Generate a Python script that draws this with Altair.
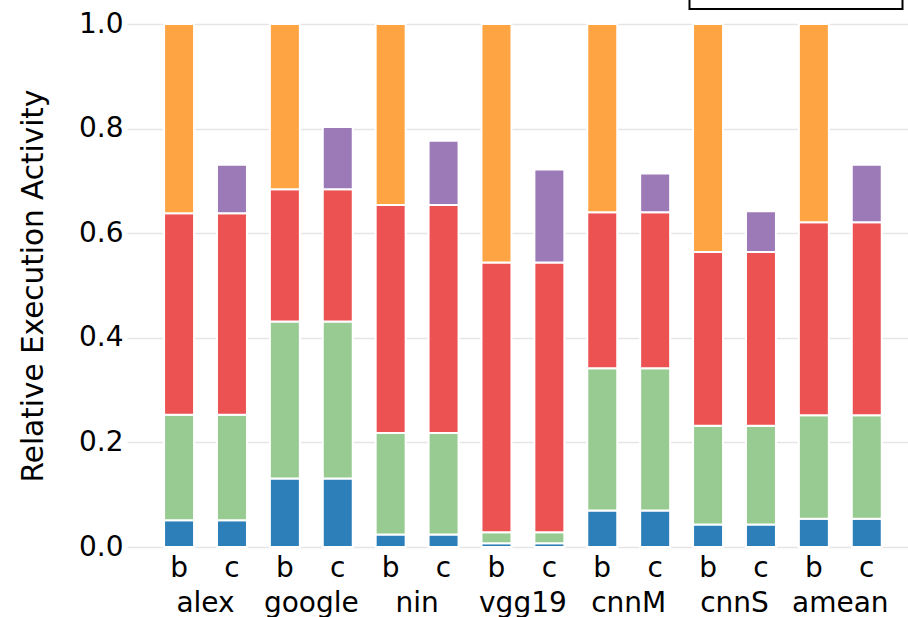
import altair as alt
import pandas as pd

# Benchmarks and the two configurations compared for each of them
groups = ["alex", "google", "nin", "vgg19", "cnnM", "cnnS", "amean"]
variants = ["b", "c"]

# Activity categories, bottom to top, and their colours
parts = ["other layers", "conv1", "non-zero", "zero", "stall"]
part_colors = ["#2c7fb8", "#98cb91", "#ed5253", "#fea442", "#9c7ab8"]

# Fractions of baseline execution activity per benchmark
other_layers = [0.051, 0.131, 0.024, 0.007, 0.070, 0.043, 0.054]
conv1 = [0.202, 0.300, 0.194, 0.021, 0.272, 0.189, 0.198]
non_zero = [0.385, 0.253, 0.436, 0.516, 0.298, 0.332, 0.369]
zero = [0.362, 0.316, 0.346, 0.456, 0.360, 0.436, 0.379]   # only in "b"
stall = [0.093, 0.119, 0.123, 0.178, 0.074, 0.078, 0.110]  # only in "c"

y_ticks = [0.0, 0.2, 0.4, 0.6, 0.8, 1.0]

FONT = "DejaVu Sans"
FS = 28
TITLE_FS = 29.5
LEGEND_FS = 27

rows = []
for i, g in enumerate(groups):
    shared = [("other layers", other_layers[i]), ("conv1", conv1[i]), ("non-zero", non_zero[i])]
    for v in variants:
        top = ("zero", zero[i]) if v == "b" else ("stall", stall[i])
        for part, val in shared + [top]:
            rows.append({"group": g, "variant": v, "part": part,
                         "value": val, "rank": parts.index(part)})
df = pd.DataFrame(rows)

labels_df = pd.DataFrame([{"group": g, "variant": v} for g in groups for v in variants])

x_enc = alt.X(
    "group:N", sort=groups,
    scale=alt.Scale(paddingInner=0, paddingOuter=0.191, align=0.634),
    axis=alt.Axis(title=None, labelPadding=42, ticks=False, domain=False, grid=False,
                  labelFont=FONT, labelFontSize=FS, labelColor="black", labelAngle=0),
)
xoff_enc = alt.XOffset(
    "variant:N", sort=variants,
    scale=alt.Scale(paddingInner=0.433, paddingOuter=0.2165),
)

bars = alt.Chart(df).mark_bar(stroke="white", strokeWidth=2).encode(
    x=x_enc,
    xOffset=xoff_enc,
    y=alt.Y(
        "value:Q", stack="zero",
        scale=alt.Scale(domain=[0, 1], nice=False),
        axis=alt.Axis(values=y_ticks, format=".1f", title="Relative Execution Activity",
                      ticks=False, domain=False, labelPadding=4,
                      labelFont=FONT, labelFontSize=FS, labelColor="black",
                      titleFont=FONT, titleFontSize=TITLE_FS, titleFontWeight="normal",
                      titleColor="black", titlePadding=30,
                      gridColor="#e5e5e5", gridWidth=1.5),
    ),
    color=alt.Color(
        "part:N", sort=parts,
        scale=alt.Scale(domain=parts, range=part_colors),
        legend=alt.Legend(title=None, orient="none", legendX=562.5, legendY=-196,
                          direction="vertical", columns=1, fillColor="white",
                          strokeColor="black", padding=17, rowPadding=2,
                          symbolType="square", symbolSize=400, symbolStrokeWidth=0,
                          labelFont=FONT, labelFontSize=LEGEND_FS, labelColor="black"),
    ),
    order=alt.Order("rank:Q"),
)

variant_labels = alt.Chart(labels_df).mark_text(
    font=FONT, fontSize=FS, color="black", baseline="alphabetic", align="center"
).encode(
    x=alt.X("group:N", sort=groups),
    xOffset=alt.XOffset("variant:N", sort=variants),
    y=alt.value(553),
    text="variant:N",
)

chart = alt.layer(bars, variant_labels).properties(
    width=781,
    height=523,
    autosize=alt.AutoSizeParams(type="none"),
    padding={"left": 127, "top": 24, "right": 0, "bottom": 70},
    background="white",
).configure_view(strokeWidth=0).configure_legend(strokeWidth=2)

chart.save("out.html", embed_options={"renderer": "svg", "actions": False})
